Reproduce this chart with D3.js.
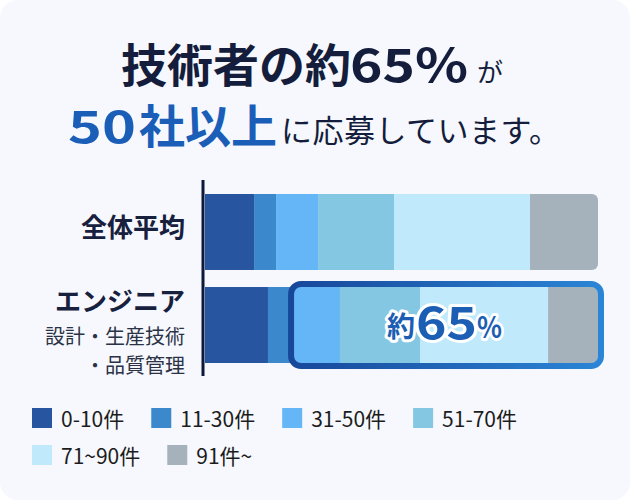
<!DOCTYPE html>
<html><head><meta charset="utf-8">
<script src="https://cdn.jsdelivr.net/npm/d3@7"></script>
<style>
html,body{margin:0;padding:0;background:#ffffff;}
svg{display:block;font-family:"Noto Sans CJK JP","Noto Sans",sans-serif;}
</style></head>
<body>
<svg id="chart" width="630" height="501"></svg>
<script>
// ---- data ----
const categories = ["全体平均", "エンジニア"];
const subLabels = [[], ["設計・生産技術", "・品質管理"]];
const seriesNames = ["0-10件", "11-30件", "31-50件", "51-70件", "71~90件", "91件~"];
const overallValues  = [12.5, 5.6, 10.7, 19.3, 34.6, 17.3];
const engineerValues = [16.0, 5.9, 12.4, 20.4, 32.6, 12.7];
const seriesColors = ["#28559f", "#3b88cc", "#64b6f6", "#83c7e2", "#c0e9fb", "#a5b2bc"];
const highlightText = ["約", "65", "%"];

const svg = d3.select("#chart");
const W = 630, H = 501;

// card background
svg.append("rect").attr("x", 0).attr("y", 0).attr("width", W).attr("height", 500)
  .attr("rx", 18).attr("fill", "#f6f8fd");

// ---- title ----
const dark = "#141d3b", blue = "#1b5eb8";
const t1 = svg.append("g");
t1.append("text").attr("x", 121).attr("y", 82).attr("font-size", 46).attr("font-weight", 700)
  .attr("fill", dark).text("技術者の約");
t1.append("text").attr("x", 350).attr("y", 82).attr("font-size", 46).attr("font-weight", 700)
  .attr("fill", dark).attr("textLength", 118).attr("lengthAdjust", "spacingAndGlyphs").text("65%");
t1.append("text").attr("x", 477).attr("y", 82).attr("font-size", 26).attr("font-weight", 400)
  .attr("fill", dark).text("が");
const t2 = svg.append("g");
t2.append("text").attr("x", 68).attr("y", 143).attr("font-size", 44).attr("font-weight", 700)
  .attr("fill", blue).attr("textLength", 68).attr("lengthAdjust", "spacingAndGlyphs").text("50");
t2.append("text").attr("x", 139).attr("y", 143).attr("font-size", 46).attr("font-weight", 700)
  .attr("fill", blue).text("社以上");
t2.append("text").attr("x", 281).attr("y", 142).attr("font-size", 31).attr("font-weight", 400)
  .attr("letter-spacing", 0.5).attr("fill", dark).text("に応募しています。");

// ---- scales ----
const x = d3.scaleLinear().domain([0, 100]).range([205, 598]);
const y = d3.scaleBand().domain(categories).range([180, 377]).paddingInner(0.183).paddingOuter(0.15);

const rows = [overallValues, engineerValues].map((vals, i) => {
  let acc = 0;
  return {cat: categories[i], segs: vals.map((v, j) => { const s = {x0: acc, x1: acc + v, k: j}; acc += v; return s; })};
});

const defs = svg.append("defs");
rows.forEach((r, i) => {
  defs.append("clipPath").attr("id", "clip" + i).append("rect")
    .attr("x", x(0) - 12).attr("y", y(r.cat)).attr("width", x(100) - x(0) + 12)
    .attr("height", y.bandwidth()).attr("rx", 6);
});

const barG = svg.append("g");
rows.forEach((r, i) => {
  barG.append("g").attr("clip-path", `url(#clip${i})`)
    .selectAll("rect").data(r.segs).join("rect")
    .attr("x", d => x(d.x0)).attr("y", y(r.cat))
    .attr("width", d => x(d.x1) - x(d.x0) + 0.3).attr("height", y.bandwidth())
    .attr("fill", d => seriesColors[d.k]);
});

// axis line
svg.append("line").attr("x1", 203).attr("x2", 203).attr("y1", y.range()[0]).attr("y2", y.range()[1] - 1)
  .attr("stroke", "#0f1838").attr("stroke-width", 3);

// category labels
svg.append("g").selectAll("text").data(categories).join("text")
  .attr("x", 185).attr("y", (d, i) => i === 0 ? y(d) + y.bandwidth() / 2 - 6 : y(d) + 12)
  .attr("text-anchor", "end").attr("dominant-baseline", "central")
  .attr("font-size", 26).attr("font-weight", 700).attr("fill", "#17203d").text(d => d);
subLabels.forEach((lines, i) => {
  lines.forEach((s, j) => {
    svg.append("text").attr("x", 185).attr("y", y(categories[i]) + 48 + j * 29)
      .attr("text-anchor", "end").attr("dominant-baseline", "central")
      .attr("font-size", 20).attr("fill", "#2b3246").text(s);
  });
});

// highlight box
const grad = defs.append("linearGradient").attr("id", "hg").attr("x1", "0%").attr("x2", "100%");
grad.append("stop").attr("offset", "0%").attr("stop-color", "#17479a");
grad.append("stop").attr("offset", "100%").attr("stop-color", "#2b85d6");
const eng = rows[1];
const hx0 = x(eng.segs[2].x0), hx1 = x(100) + 3;
const hy0 = y(eng.cat) - 3, hy1 = y(eng.cat) + y.bandwidth() + 3;
svg.append("rect").attr("x", hx0).attr("y", hy0).attr("width", hx1 - hx0).attr("height", hy1 - hy0)
  .attr("rx", 10).attr("fill", "none").attr("stroke", "url(#hg)").attr("stroke-width", 6);

// highlight label
const cy = y(eng.cat) + y.bandwidth() / 2;
const lab = svg.append("g").attr("fill", "#1b5eb4").attr("stroke", "#ffffff").attr("stroke-width", 6)
  .attr("stroke-linejoin", "round").attr("paint-order", "stroke").attr("font-weight", 700);
lab.append("text").attr("x", 387).attr("y", cy + 12).attr("font-size", 28).text(highlightText[0]);
lab.append("text").attr("x", 416).attr("y", cy + 14).attr("font-size", 45)
  .attr("textLength", 61).attr("lengthAdjust", "spacingAndGlyphs").text(highlightText[1]);
lab.append("text").attr("x", 477).attr("y", cy + 13).attr("font-size", 30)
  .attr("textLength", 25).attr("lengthAdjust", "spacingAndGlyphs").text(highlightText[2]);

// legend (flow layout)
const legG = svg.append("g");
let lx = 32, ly = 408;
const maxX = 560;
seriesNames.forEach((name, i) => {
  const g = legG.append("g");
  g.append("rect").attr("width", 20).attr("height", 20).attr("fill", seriesColors[i]);
  const tx = g.append("text").attr("x", 29).attr("y", 10).attr("dominant-baseline", "central")
    .attr("font-size", 21).attr("fill", "#1c1c1c").text(name);
  const w = 29 + tx.node().getComputedTextLength();
  if (lx + w > maxX) { lx = 32; ly += 37; }
  g.attr("transform", `translate(${lx},${ly})`);
  lx += w + 27;
});
</script>
</body></html>
